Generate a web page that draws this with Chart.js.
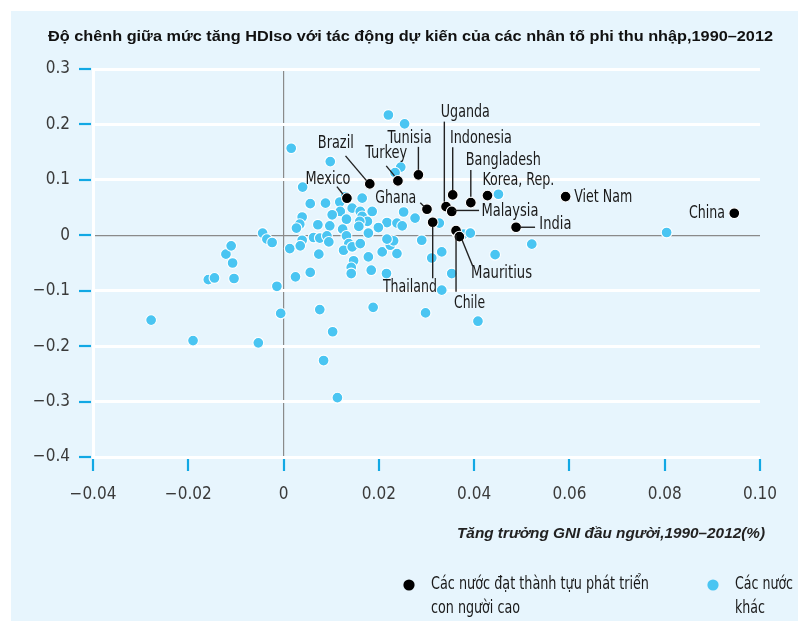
<!DOCTYPE html>
<html><head><meta charset="utf-8">
<script src="https://cdn.jsdelivr.net/npm/chart.js@4.4.1/dist/chart.umd.min.js"></script>
<style>html,body{margin:0;padding:0;background:#fff;}#wrap{width:808px;height:628px;position:relative}</style>
</head><body><div id="wrap"><canvas id="c" width="808" height="628"></canvas></div>
<script>
const chartTitle = "Độ chênh giữa mức tăng HDIso với tác động dự kiến của các nhân tố phi thu nhập,1990–2012";
const xAxisTitle = "Tăng trưởng GNI đầu người,1990–2012(%)";
const legendHigh = ["Các nước đạt thành tựu phát triển", "con người cao"];
const legendOther = ["Các nước", "khác"];
const xTicks = [-0.04, -0.02, 0, 0.02, 0.04, 0.06, 0.08, 0.10];
const yTicks = [0.3, 0.2, 0.1, 0, -0.1, -0.2, -0.3, -0.4];

const highNames = ["Mexico","Brazil","Turkey","Tunisia","Ghana","Uganda","Malaysia","Indonesia","Bangladesh","Korea, Rep.","Viet Nam","India","Thailand","Chile","Mauritius","China"];
const highX = [0.0133,0.0181,0.0240,0.0283,0.0301,0.0341,0.0353,0.0355,0.0393,0.0428,0.0592,0.0488,0.0313,0.0362,0.0369,0.0946];
const highY = [0.0669,0.0927,0.0981,0.109,0.0470,0.0517,0.0430,0.0728,0.0589,0.0716,0.0698,0.0145,0.0235,0.0083,-0.0025,0.0398];

const otherX = [-0.0278,-0.0190,-0.0158,-0.0145,-0.0121,-0.0110,-0.0107,-0.0104,-0.0044,-0.0035,-0.0024,-0.0014,-0.0006,-0.0053,0.0013,0.0025,0.0016,0.0098,0.0040,0.0130,0.0165,0.0220,0.0254,0.0246,0.0234,0.0056,0.0088,0.0118,0.0119,0.0102,0.0144,0.0161,0.0165,0.0186,0.0176,0.0160,0.0158,0.0039,0.0034,0.0027,0.0072,0.0097,0.0132,0.0124,0.0217,0.0238,0.0252,0.0249,0.0276,0.0199,0.0178,0.0063,0.0076,0.0091,0.0095,0.0074,0.0039,0.0035,0.0132,0.0137,0.0126,0.0144,0.0161,0.0147,0.0142,0.0142,0.0178,0.0184,0.0207,0.0224,0.0231,0.0238,0.0217,0.0290,0.0311,0.0332,0.0327,0.0353,0.0332,0.0056,0.0076,0.0188,0.0216,0.0298,0.0364,0.0378,0.0392,0.0451,0.0521,0.0444,0.0408,0.0804,0.0103,0.0084,0.0113];
const otherY = [-0.153,-0.190,-0.080,-0.077,-0.034,-0.019,-0.050,-0.078,0.004,-0.007,-0.013,-0.092,-0.141,-0.194,-0.024,-0.075,0.157,0.133,0.087,0.070,0.067,0.217,0.201,0.123,0.113,0.057,0.058,0.060,0.043,0.037,0.049,0.043,0.034,0.043,0.025,0.025,0.016,0.033,0.020,0.013,0.019,0.017,0.029,0.011,0.023,0.022,0.042,0.017,0.031,0.014,0.004,-0.004,-0.005,-0.001,-0.012,-0.034,-0.009,-0.019,-0.001,-0.015,-0.027,-0.021,-0.015,-0.046,-0.058,-0.069,-0.039,-0.063,-0.030,-0.018,-0.010,-0.033,-0.007,-0.009,-0.041,-0.030,0.022,-0.069,-0.099,-0.067,-0.134,-0.130,-0.069,-0.140,0.005,0.002,0.004,0.074,-0.016,-0.035,-0.155,0.005,-0.174,-0.226,-0.293];

// label layout: pixel offsets from the point
const labelLayout = {
  "Mexico":{dx:-19,dy:-19,align:"center",w:45,line:[[-10,-11.6],[-4,-4]]},
  "Brazil":{dx:-34,dy:-40.7,align:"center",w:36,line:[[-24.3,-28],[-3.3,-3.3]]},
  "Turkey":{dx:-11.7,dy:-27,align:"center",w:42,line:[[-11.7,-15],[-3.4,-5]]},
  "Tunisia":{dx:-8.8,dy:-36,align:"center",w:44,line:[[0,-28],[0,-5]]},
  "Uganda":{dx:19.3,dy:-94,align:"center",w:49,line:[[-1.7,-85],[-1.7,-5]]},
  "Indonesia":{dx:28.2,dy:-56.7,align:"center",w:62,line:[[0,-47.7],[0,-5]]},
  "Bangladesh":{dx:32.5,dy:-42,align:"center",w:75,line:[[0,-32.7],[0,-6]]},
  "Korea, Rep.":{dx:30.9,dy:-15,align:"center",w:72},
  "Viet Nam":{dx:8.6,dy:0.6,align:"left",w:58},
  "India":{dx:23.3,dy:-2.3,align:"left",w:32,line:[[4,0],[19,0]]},
  "Malaysia":{dx:29.7,dy:0,align:"left",w:57,line:[[2.3,-1],[27.3,-1]]},
  "Ghana":{dx:-31.2,dy:-11,align:"center",w:41,line:[[-6.7,-6.6],[-2.7,-2.6]]},
  "Thailand":{dx:-22.8,dy:65,align:"center",w:54,line:[[0,4.4],[0,56]]},
  "Chile":{dx:13.5,dy:72.6,align:"center",w:31,line:[[0,4.3],[0,61]]},
  "Mauritius":{dx:42.2,dy:36.6,align:"center",w:61,line:[[2.7,3.3],[13.3,29.3]]},
  "China":{dx:-9.3,dy:0,align:"right",w:36}
};

const NARROW = "'Liberation Sans Narrow','DejaVu Sans Condensed',sans-serif";
const BLUE = "#4ac5f2";
const TICKBLUE = "#12a8e4";
const BG = "#e7f5fd";

function fitText(ctx, text, x, y, font, width, align, color) {
  ctx.save();
  ctx.font = font; ctx.fillStyle = color; ctx.textBaseline = "middle"; ctx.textAlign = "left";
  const w = ctx.measureText(text).width;
  const tw = width || w;
  const sx = tw / w;
  const left = align === "center" ? x - tw / 2 : align === "right" ? x - tw : x;
  ctx.translate(left, y); ctx.scale(sx, 1);
  ctx.fillText(text, 0, 0);
  ctx.restore();
}

function fmt(v, d) {
  if (Math.abs(v) < 1e-9) return "0";
  return (v < 0 ? "\u2212" : "") + Math.abs(v).toFixed(d);
}

const decor = {
  id: "decor",
  beforeDraw(chart) {
    const ctx = chart.ctx;
    ctx.save();
    ctx.fillStyle = "#fff"; ctx.fillRect(0, 0, 808, 628);
    ctx.fillStyle = BG; ctx.fillRect(11, 11, 787, 610);
    ctx.restore();
  },
  afterDraw(chart) {
    const ctx = chart.ctx;
    const xs = chart.scales.x, ys = chart.scales.y;
    ctx.save();
    ctx.strokeStyle = TICKBLUE; ctx.lineWidth = 2.2;
    yTicks.forEach(v => {
      const p = Math.round(ys.getPixelForValue(v));
      ctx.beginPath(); ctx.moveTo(79, p); ctx.lineTo(91, p); ctx.stroke();
    });
    xTicks.forEach(v => {
      const p = Math.round(xs.getPixelForValue(v));
      ctx.beginPath(); ctx.moveTo(p, 459); ctx.lineTo(p, 471); ctx.stroke();
    });
    ctx.restore();
    fitText(ctx, chartTitle, 410.5, 37, "bold 15px 'Liberation Sans',sans-serif", 725, "center", "#111");
    fitText(ctx, xAxisTitle, 765, 534, "italic bold 14px 'Liberation Sans',sans-serif", 308, "right", "#222");
    ctx.save();
    ctx.fillStyle = "#000"; ctx.beginPath(); ctx.arc(409, 585, 5.6, 0, Math.PI * 2); ctx.fill();
    ctx.fillStyle = BLUE; ctx.beginPath(); ctx.arc(713, 585, 5.6, 0, Math.PI * 2); ctx.fill();
    ctx.restore();
    const lf = "17px " + NARROW;
    fitText(ctx, legendHigh[0], 431, 585, lf, 218, "left", "#1a1a1a");
    fitText(ctx, legendHigh[1], 431, 609, lf, 89, "left", "#1a1a1a");
    fitText(ctx, legendOther[0], 735, 585, lf, 58, "left", "#1a1a1a");
    fitText(ctx, legendOther[1], 735, 609, lf, 30, "left", "#1a1a1a");
  },
  afterDatasetsDraw(chart) {
    const ctx = chart.ctx;
    const xs = chart.scales.x, ys = chart.scales.y;
    highNames.forEach((n, i) => {
      const L = labelLayout[n];
      if (!L) return;
      const px = xs.getPixelForValue(highX[i]), py = ys.getPixelForValue(highY[i]);
      if (L.line) {
        ctx.save(); ctx.strokeStyle = "#222"; ctx.lineWidth = 1.4;
        ctx.beginPath(); ctx.moveTo(px + L.line[0][0], py + L.line[0][1]);
        ctx.lineTo(px + L.line[1][0], py + L.line[1][1]); ctx.stroke(); ctx.restore();
      }
      fitText(ctx, n, px + L.dx, py + L.dy, "17px " + NARROW, L.w, L.align, "#1a1a1a");
    });
  }
};

const otherData = otherX.map((x, i) => ({ x, y: otherY[i] }));
const highData = highX.map((x, i) => ({ x, y: highY[i] }));

new Chart(document.getElementById("c"), {
  type: "scatter",
  data: {
    datasets: [
      { label: "other", data: otherData, backgroundColor: BLUE, borderColor: "#fff", borderWidth: 1.1, pointRadius: 5.4, pointHoverRadius: 5.4, order: 2 },
      { label: "high", data: highData, backgroundColor: "#000", borderColor: "#fff", borderWidth: 1.1, pointRadius: 5.4, pointHoverRadius: 5.4, order: 1 }
    ]
  },
  options: {
    responsive: false, animation: false, devicePixelRatio: 1,
    layout: { padding: { top: 69, right: 48, bottom: 0, left: 0 } },
    plugins: { legend: { display: false }, tooltip: { enabled: false }, title: { display: false } },
    scales: {
      x: {
        type: "linear", min: -0.04, max: 0.10,
        afterBuildTicks: s => { s.ticks = xTicks.map(v => ({ value: v })); },
        afterFit: s => { s.height = 171; },
        ticks: { callback: v => fmt(v, 2), font: { family: NARROW, size: 17 }, color: "#3a3a3a", padding: 27, maxRotation: 0, autoSkip: false },
        grid: { drawTicks: false, color: c => (c.tick && Math.abs(c.tick.value) < 1e-9) ? "#8a8a8a" : "rgba(0,0,0,0)", lineWidth: 1.2 },
        border: { display: false }
      },
      y: {
        type: "linear", min: -0.4, max: 0.3,
        afterBuildTicks: s => { s.ticks = yTicks.map(v => ({ value: v })); },
        afterFit: s => { s.width = 93; },
        ticks: { callback: v => fmt(v, 1), font: { family: NARROW, size: 17 }, color: "#3a3a3a", padding: 23, autoSkip: false },
        grid: { drawTicks: false, color: c => (c.tick && Math.abs(c.tick.value) < 1e-9) ? "#8a8a8a" : "#ffffff", lineWidth: c => (c.tick && Math.abs(c.tick.value) < 1e-9) ? 1.2 : 3 },
        border: { display: true, color: "#ffffff", width: 3 }
      }
    }
  },
  plugins: [decor]
});
</script></body></html>
